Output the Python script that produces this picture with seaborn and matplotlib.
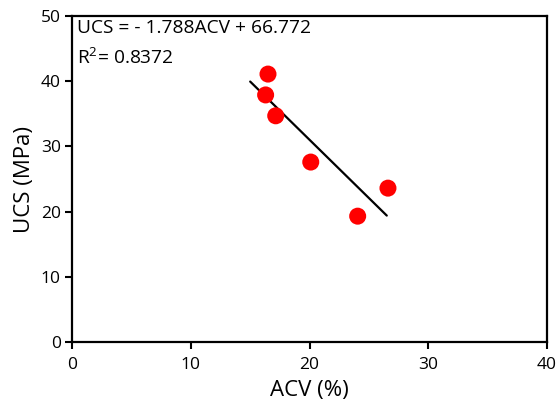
import numpy as np
import pandas as pd
import matplotlib
matplotlib.use("Agg")
import matplotlib.pyplot as plt
import seaborn as sns

# Measured samples
acv = [16.5, 16.3, 17.15, 20.1, 24.05, 26.6]
ucs = [41.1, 37.9, 34.7, 27.6, 19.3, 23.6]

# Linear fit reported on the chart
slope = -1.788
intercept = 66.772
r2 = 0.8372
fit_range = [15.0, 26.5]

x_ticks = [0, 10, 20, 30, 40]
y_ticks = [0, 10, 20, 30, 40, 50]

sns.set_theme(style="white")
plt.rcParams["font.family"] = ["Open Sans", "DejaVu Sans"]
plt.rcParams["mathtext.fontset"] = "custom"
plt.rcParams["mathtext.rm"] = "Open Sans"
plt.rcParams["text.color"] = "black"
plt.rcParams["axes.labelcolor"] = "black"

fig = plt.figure(figsize=(5.6, 4.12), dpi=100)
ax = fig.add_axes([0.1286, 0.170, 0.8484, 0.791])

df = pd.DataFrame({"ACV": acv, "UCS": ucs})
fit_x = np.array(fit_range)
fit_df = pd.DataFrame({"ACV": fit_x, "UCS": slope * fit_x + intercept})

sns.lineplot(data=fit_df, x="ACV", y="UCS", ax=ax, color="black", linewidth=1.6)
sns.scatterplot(data=df, x="ACV", y="UCS", ax=ax, color="#ff0000", s=150,
                edgecolor="none", zorder=3)

ax.set_xlim(0, 40)
ax.set_ylim(0, 50)
ax.set_xticks(x_ticks)
ax.set_yticks(y_ticks)
ax.tick_params(axis="both", direction="out", length=5, width=1.5,
               labelsize=12.5, colors="black", pad=3, bottom=True, left=True)
ax.tick_params(axis="x", pad=6)
for side in ax.spines.values():
    side.set_color("black")
    side.set_linewidth(1.6)

ax.set_xlabel("ACV (%)", fontsize=16, labelpad=5, color="black")
ax.set_ylabel("UCS (MPa)", fontsize=16, labelpad=4, color="black")

ax.text(0.010, 0.992, f"UCS = - {abs(slope)}ACV + {intercept}", transform=ax.transAxes,
        ha="left", va="top", fontsize=13.8, color="black")
ax.text(0.010, 0.905, f"R$^2$= {r2}", transform=ax.transAxes,
        ha="left", va="top", fontsize=13.8, color="black")

fig.savefig("out.png", dpi=100)
